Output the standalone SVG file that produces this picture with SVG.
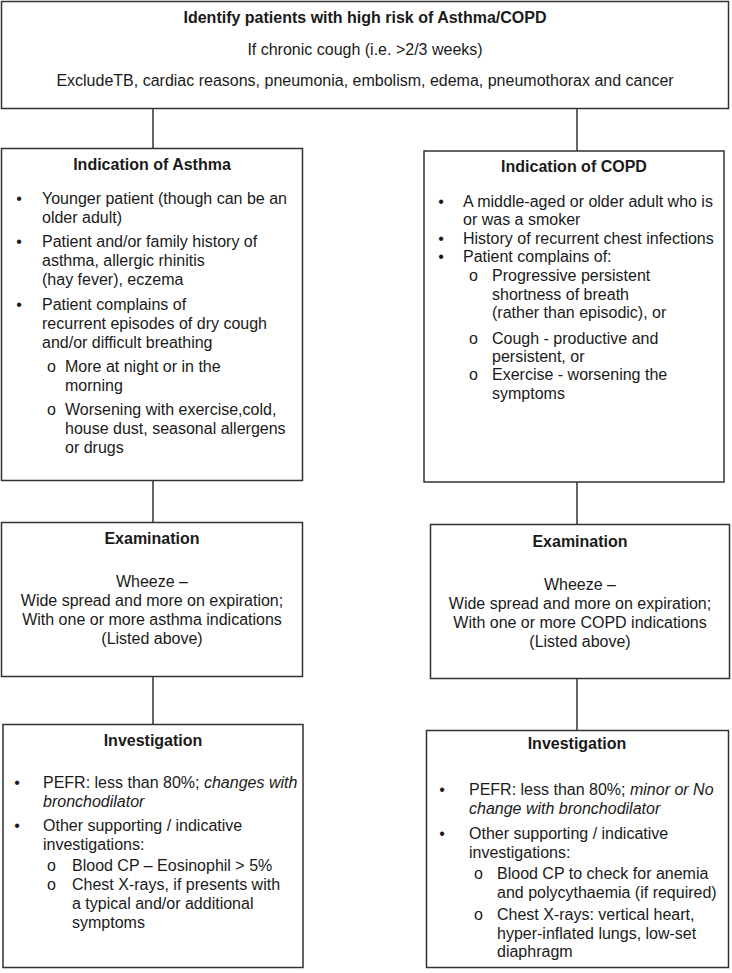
<svg xmlns="http://www.w3.org/2000/svg" width="732" height="973" viewBox="0 0 732 973">
<style>
.box{fill:#fff;stroke:#333;stroke-width:1.5}
.ln{stroke:#333;stroke-width:1.5;fill:none}
text{font-family:"Liberation Sans",Arial,sans-serif;font-size:16px;fill:#1a1a1a}
.t{font-weight:bold;text-anchor:middle}
.c{text-anchor:middle}
.b{text-anchor:middle}
.i{font-style:italic}
</style>
<rect width="732" height="973" fill="#fff"/>
<g id="connectors">
<line class="ln" x1="153" y1="109" x2="153" y2="148.5"/>
<line class="ln" x1="577" y1="109" x2="577" y2="151"/>
<line class="ln" x1="153" y1="480.5" x2="153" y2="522.5"/>
<line class="ln" x1="577" y1="482" x2="577" y2="524.5"/>
<line class="ln" x1="153" y1="676.5" x2="153" y2="724.5"/>
<line class="ln" x1="577" y1="678.5" x2="577" y2="730.5"/>
</g>
<g id="top">
<rect class="box" x="1.5" y="1.5" width="727" height="107"/>
<text class="t" x="365" y="23">Identify patients with high risk of Asthma/COPD</text>
<text class="c" x="365" y="55">If chronic cough (i.e. &gt;2/3 weeks)</text>
<text class="c" x="365" y="86">ExcludeTB, cardiac reasons, pneumonia, embolism, edema, pneumothorax and cancer</text>
</g>
<g id="asthma">
<rect class="box" x="1.5" y="148.5" width="301" height="332"/>
<text class="t" x="152" y="170">Indication of Asthma</text>
<text class="b" x="19" y="204">•</text>
<text x="42" y="204">Younger patient (though can be an</text>
<text x="42" y="223">older adult)</text>
<text class="b" x="19" y="247">•</text>
<text x="42" y="247">Patient and/or family history of</text>
<text x="42" y="266">asthma, allergic rhinitis</text>
<text x="42" y="285">(hay fever), eczema</text>
<text class="b" x="19" y="310">•</text>
<text x="42" y="310">Patient complains of</text>
<text x="42" y="329">recurrent episodes of dry cough</text>
<text x="42" y="348">and/or difficult breathing</text>
<text x="47" y="372">o</text>
<text x="65" y="372">More at night or in the</text>
<text x="65" y="391">morning</text>
<text x="47" y="415">o</text>
<text x="65" y="415">Worsening with exercise,cold,</text>
<text x="65" y="434">house dust, seasonal allergens</text>
<text x="65" y="453">or drugs</text>
</g>
<g id="copd">
<rect class="box" x="424" y="151" width="300" height="331"/>
<text class="t" x="574" y="172">Indication of COPD</text>
<text class="b" x="441" y="207">•</text>
<text x="463" y="207">A middle-aged or older adult who is</text>
<text x="463" y="225">or was a smoker</text>
<text class="b" x="441" y="244">•</text>
<text x="463" y="244">History of recurrent chest infections</text>
<text class="b" x="441" y="262">•</text>
<text x="463" y="262">Patient complains of:</text>
<text x="469" y="281">o</text>
<text x="492" y="281">Progressive persistent</text>
<text x="492" y="300">shortness of breath</text>
<text x="492" y="318">(rather than episodic), or</text>
<text x="469" y="344">o</text>
<text x="492" y="344">Cough - productive and</text>
<text x="492" y="362">persistent, or</text>
<text x="469" y="380">o</text>
<text x="492" y="380">Exercise - worsening the</text>
<text x="492" y="399">symptoms</text>
</g>
<g id="exam-asthma">
<rect class="box" x="1.5" y="522.5" width="301" height="154"/>
<text class="t" x="152" y="544">Examination</text>
<text class="c" x="152" y="587">Wheeze –</text>
<text class="c" x="152" y="606">Wide spread and more on expiration;</text>
<text class="c" x="152" y="625">With one or more asthma indications</text>
<text class="c" x="152" y="644">(Listed above)</text>
</g>
<g id="exam-copd">
<rect class="box" x="430.5" y="524.5" width="299" height="154"/>
<text class="t" x="580" y="547">Examination</text>
<text class="c" x="580" y="590">Wheeze –</text>
<text class="c" x="580" y="609">Wide spread and more on expiration;</text>
<text class="c" x="580" y="628">With one or more COPD indications</text>
<text class="c" x="580" y="647">(Listed above)</text>
</g>
<g id="invest-asthma">
<rect class="box" x="3" y="724.5" width="300" height="243"/>
<text class="t" x="153" y="746">Investigation</text>
<text class="b" x="17" y="788">•</text>
<text x="43" y="788">PEFR: less than 80%; <tspan class="i">changes with</tspan></text>
<text class="i" x="43" y="807">bronchodilator</text>
<text class="b" x="17" y="831">•</text>
<text x="43" y="831">Other supporting / indicative</text>
<text x="43" y="850">investigations:</text>
<text x="47" y="871">o</text>
<text x="72" y="871">Blood CP – Eosinophil &gt; 5%</text>
<text x="47" y="890">o</text>
<text x="72" y="890">Chest X-rays, if presents with</text>
<text x="72" y="909">a typical and/or additional</text>
<text x="72" y="928">symptoms</text>
</g>
<g id="invest-copd">
<rect class="box" x="426.5" y="730.5" width="302" height="237"/>
<text class="t" x="577" y="749">Investigation</text>
<text class="b" x="442" y="795">•</text>
<text x="469" y="795">PEFR: less than 80%; <tspan class="i">minor or No</tspan></text>
<text class="i" x="469" y="814">change with bronchodilator</text>
<text class="b" x="442" y="839">•</text>
<text x="469" y="839">Other supporting / indicative</text>
<text x="469" y="858">investigations:</text>
<text x="474" y="879">o</text>
<text x="497" y="879">Blood CP to check for anemia</text>
<text x="497" y="898">and polycythaemia (if required)</text>
<text x="474" y="920">o</text>
<text x="497" y="920">Chest X-rays: vertical heart,</text>
<text x="497" y="939">hyper-inflated lungs, low-set</text>
<text x="497" y="957">diaphragm</text>
</g>
</svg>
